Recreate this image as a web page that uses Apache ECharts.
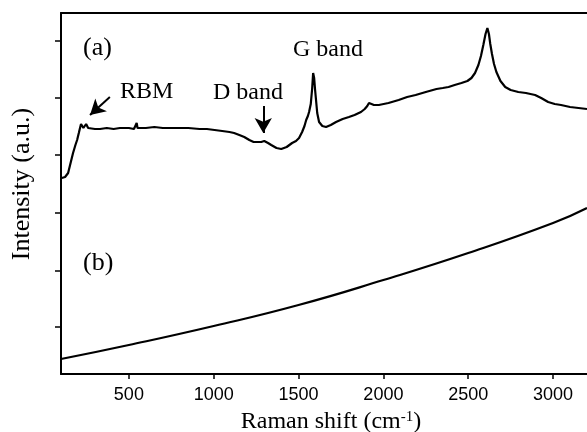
<!DOCTYPE html>
<html>
<head>
<meta charset="utf-8">
<script src="https://cdn.jsdelivr.net/npm/echarts@6/dist/echarts.min.js"></script>
<style>
html,body{margin:0;padding:0;background:#fff;}
#c{width:587px;height:432px;}
</style>
</head>
<body>
<div id="c"></div>
<script>
// Raman shift (cm^-1), intensity (a.u.)
const spectrumA = [[105,196],[115,196],[124,197],[135,199],[142,201],[155,210],[171,221],[185,229],[195,234],[205,241],[212,246],[218,250],[224,248],[232,246],[240,247],[248,250],[254,250],[260,246],[271,244],[300,245],[330,245],[370,246],[410,245],[447,246],[500,246],[530,245],[541,246],[546,251],[551,246],[600,246],[650,247],[700,246],[750,246],[799,246],[850,246],[917,245],[960,245],[1005,244],[1050,243],[1093,242],[1120,241],[1151,239],[1180,237],[1210,234],[1235,232],[1257,232],[1280,232],[1298,233],[1320,231],[1339,229],[1370,226],[1398,225],[1430,227],[1462,231],[1485,233],[1503,236],[1521,242],[1535,248],[1545,254],[1555,258],[1562,262],[1572,270],[1580,285],[1586,301],[1592,296],[1597,285],[1603,274],[1610,261],[1621,252],[1640,248],[1662,247],[1690,249],[1721,252],[1760,255],[1797,257],[1830,259],[1868,262],[1890,265],[1905,268],[1915,271],[1930,270],[1944,269],[1973,269],[2030,271],[2090,274],[2140,277],[2190,279],[2250,282],[2313,285],[2350,286],[2384,287],[2420,289],[2460,291],[2495,293],[2519,296],[2540,301],[2560,309],[2575,318],[2589,329],[2602,340],[2613,346],[2622,340],[2630,330],[2640,320],[2652,310],[2666,302],[2690,293],[2718,287],[2750,284],[2795,282],[2840,281],[2894,279],[2930,276],[2971,272],[3010,270],[3047,269],[3100,267],[3150,266],[3200,265]];
const spectrumB = [[100,15],[500,29],[1000,48],[1500,69],[2000,94],[2500,121],[3000,151],[3200,166]];
const xTicks = [500,1000,1500,2000,2500,3000];
const yTicks = [47,103,161,219,276,333];
const arrowRBM = [[388,277],[271,259]];
const arrowD = [[1292,268],[1292,241]];

const chart = echarts.init(document.getElementById('c'), null, {renderer:'canvas'});
const serif = '"Liberation Serif","Times New Roman",serif';
chart.setOption({
  animation:false,
  backgroundColor:'#fff',
  grid:{left:61, top:13, right:-2, bottom:58, show:false},
  xAxis:[{
    type:'value', min:100, max:3200,
    splitLine:{show:false},
    axisLine:{show:true, lineStyle:{color:'#000', width:2}},
    axisTick:{show:true, inside:false, length:5, customValues:xTicks, lineStyle:{color:'#000', width:1.5}},
    axisLabel:{customValues:xTicks, color:'#000', fontSize:18, fontFamily:'"Liberation Sans",Arial,sans-serif', margin:12,
      formatter:function(v){return String(v);}}
  },{
    type:'value', min:100, max:3200, position:'top',
    splitLine:{show:false},
    axisLine:{show:true, lineStyle:{color:'#000', width:2}},
    axisTick:{show:false}, axisLabel:{show:false}
  }],
  yAxis:{
    type:'value', min:0, max:361,
    splitLine:{show:false},
    axisLine:{show:true, lineStyle:{color:'#000', width:2}},
    axisTick:{show:true, inside:false, length:6, customValues:yTicks, lineStyle:{color:'#000', width:1.5}},
    axisLabel:{show:false}
  },
  series:[
    {type:'line', data:spectrumA, showSymbol:false, symbol:'none', lineStyle:{color:'#000', width:2.2}, silent:true,
     markLine:{silent:true, symbol:['none','arrow'], symbolSize:[13,15], label:{show:false},
       lineStyle:{color:'#000', width:2, type:'solid'},
       data:[
         [{coord:arrowRBM[0]},{coord:arrowRBM[1]}],
         [{coord:arrowD[0]},{coord:arrowD[1]}]
       ]}},
    {type:'line', data:spectrumB, smooth:true, showSymbol:false, symbol:'none', lineStyle:{color:'#000', width:2.2}, silent:true}
  ],
  graphic:[
    {type:'text', x:83, y:48, style:{text:'(a)', font:'26px '+serif, fill:'#000', verticalAlign:'middle', align:'left'}},
    {type:'text', x:120, y:92, style:{text:'RBM', font:'24px '+serif, fill:'#000', verticalAlign:'middle', align:'left'}},
    {type:'text', x:213, y:93, style:{text:'D band', font:'24px '+serif, fill:'#000', verticalAlign:'middle', align:'left'}},
    {type:'text', x:293, y:50, style:{text:'G band', font:'24px '+serif, fill:'#000', verticalAlign:'middle', align:'left'}},
    {type:'text', x:83, y:263, style:{text:'(b)', font:'26px '+serif, fill:'#000', verticalAlign:'middle', align:'left'}},
    {type:'text', x:22, y:184, rotation:Math.PI/2, style:{text:'Intensity (a.u.)', font:'26px '+serif, fill:'#000', verticalAlign:'middle', align:'center'}},
    {type:'text', x:331, y:422, style:{
      text:'{a|Raman shift (cm}{s|-1}{a|)}', fill:'#000', verticalAlign:'middle', align:'center',
      rich:{a:{fontSize:24, fontFamily:serif, color:'#000'}, s:{fontSize:15, fontFamily:serif, color:'#000', verticalAlign:'top', padding:[0,0,10,0]}}
    }}
  ]
});
</script>
</body>
</html>
